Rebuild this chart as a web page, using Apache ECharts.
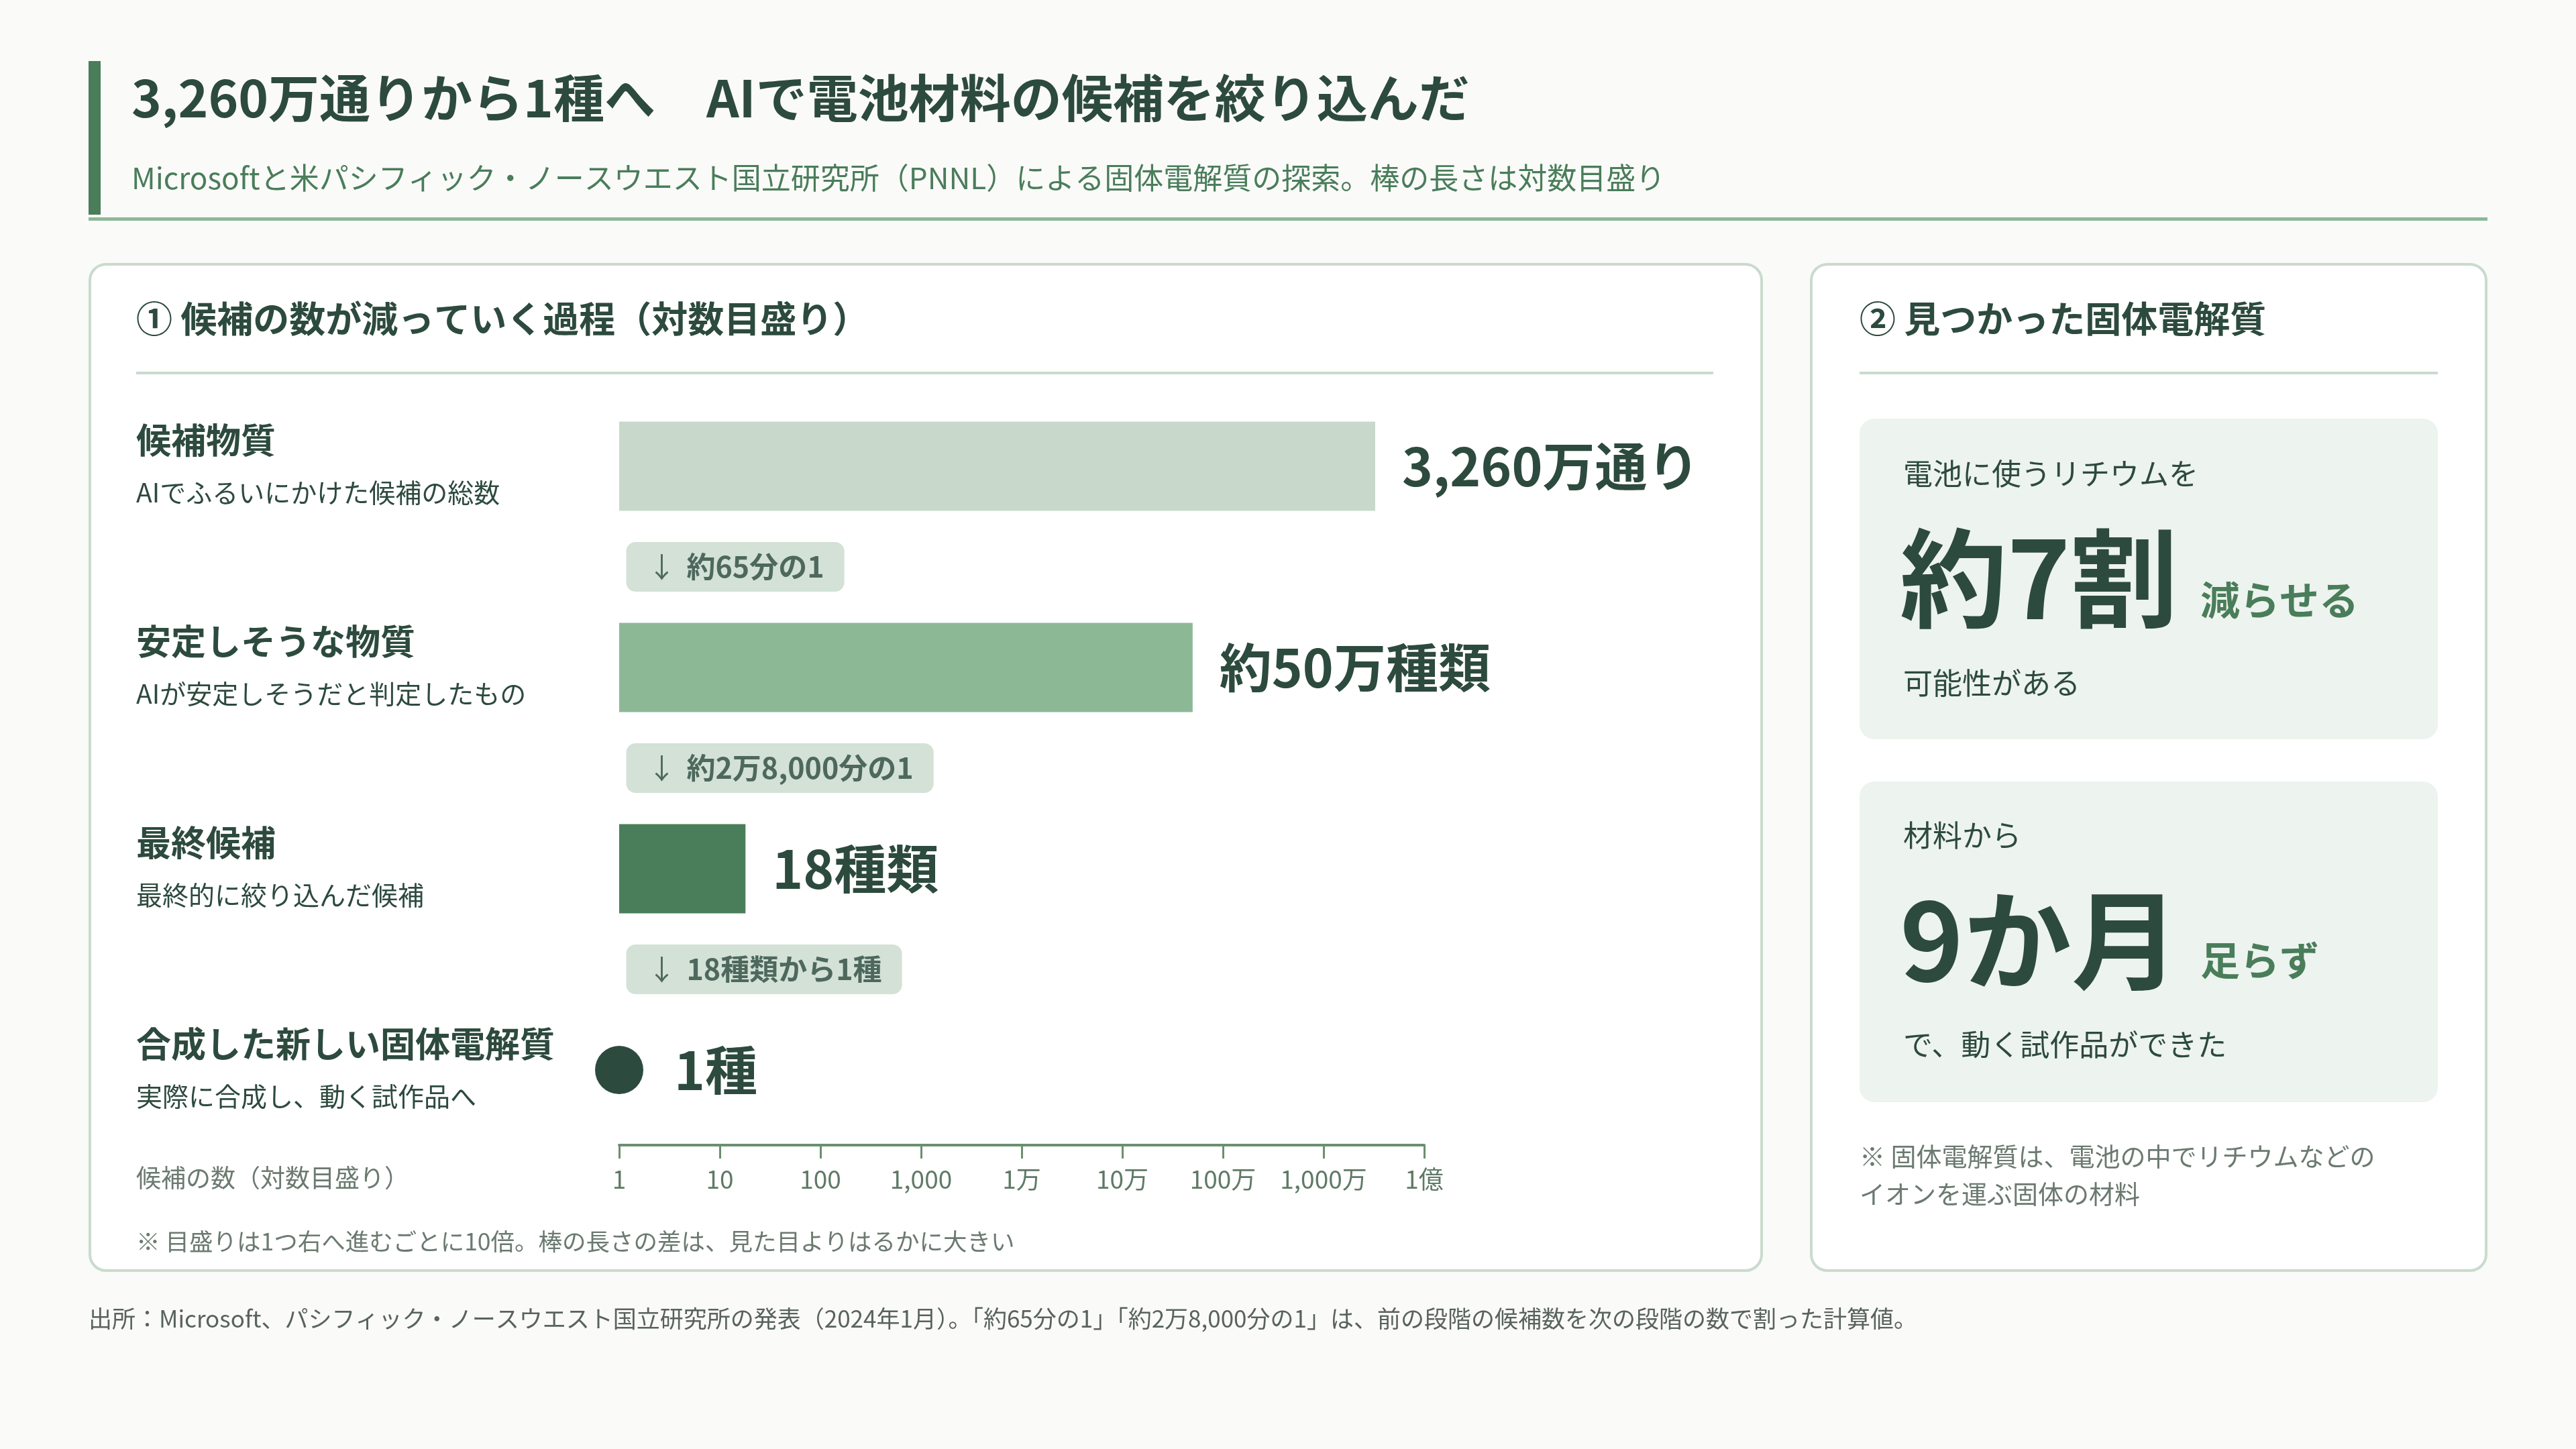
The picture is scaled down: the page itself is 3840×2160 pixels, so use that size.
<!DOCTYPE html>
<html lang="ja">
<head>
<meta charset="utf-8">
<title>3,260万通りから1種へ</title>
<script src="https://cdn.jsdelivr.net/npm/echarts@6/dist/echarts.min.js"></script>
<style>
  html, body { margin: 0; padding: 0; background: #fafaf9; }
  #chart { width: 3840px; height: 2160px; }
</style>
</head>
<body>
<div id="chart"></div>
<script>
// ---------- data ----------
const stageNames = ['候補物質', '安定しそうな物質', '最終候補', '合成した新しい固体電解質'];
const stageNotes = ['AIでふるいにかけた候補の総数', 'AIが安定しそうだと判定したもの', '最終的に絞り込んだ候補', '実際に合成し、動く試作品へ'];
const stageCounts = [32600000, 500000, 18, 1];
const countLabels = ['3,260万通り', '約50万種類', '18種類', '1種'];
const ratioLabels = ['約65分の1', '約2万8,000分の1', '18種類から1種'];
const tickLabels = ['1', '10', '100', '1,000', '1万', '10万', '100万', '1,000万', '1億'];
const stageColors = ['#c8d9cc', '#8cb896', '#4a7d5a', '#2d4a3e'];

// ---------- build slots (stage rows interleaved with ratio badges) ----------
const FONT = "'Noto Sans CJK JP', 'Noto Sans', sans-serif";
const DARK = '#2d4a3e';
const slots = [];
stageNames.forEach((n, i) => {
  slots.push({ kind: 'stage', i: i });
  if (i < ratioLabels.length) slots.push({ kind: 'ratio', i: i });
});

const barData = slots.map(s => {
  if (s.kind === 'stage' && stageCounts[s.i] > 1) {
    return { value: stageCounts[s.i], itemStyle: { color: stageColors[s.i] }, stage: s.i };
  }
  return '-';
});
const dotData = [];
const badgeData = [];
slots.forEach((s, k) => {
  if (s.kind === 'stage' && stageCounts[s.i] <= 1) {
    dotData.push({ value: [stageCounts[s.i], k], itemStyle: { color: stageColors[s.i], opacity: 1 }, stage: s.i });
  }
  if (s.kind === 'ratio') badgeData.push({ value: [1, k], ratio: s.i });
});

// ---------- chart ----------
const chart = echarts.init(document.getElementById('chart'), null, { renderer: 'canvas', width: 3840, height: 2160 });

function txt(text, x, y, size, weight, color, extra) {
  return Object.assign({
    type: 'text', x: x, y: y, z: 10,
    style: {
      text: text, fontSize: size, fontWeight: weight, fontFamily: FONT, fill: color,
      align: 'left', verticalAlign: 'middle', textAlign: 'left', textVerticalAlign: 'middle'
    }
  }, extra || {});
}

const graphics = [
  // header
  { type: 'rect', z: 1, shape: { x: 132, y: 91, width: 18, height: 229 }, style: { fill: '#4a7d5a' } },
  txt('3,260万通りから1種へ　AIで電池材料の候補を絞り込んだ', 196, 146, 76, 'bold', DARK),
  txt('Microsoftと米パシフィック・ノースウエスト国立研究所（PNNL）による固体電解質の探索。棒の長さは対数目盛り', 196, 265, 44, 'normal', '#4a7d5a'),
  { type: 'rect', z: 1, shape: { x: 132, y: 324, width: 3576, height: 5 }, style: { fill: '#8cb896' } },

  // left card
  { type: 'rect', z: 0, shape: { x: 134, y: 394, width: 2492, height: 1500, r: 24 }, style: { fill: '#ffffff', stroke: '#c9dbcd', lineWidth: 4 } },
  txt('① 候補の数が減っていく過程（対数目盛り）', 203, 475, 54, 'bold', DARK),
  { type: 'rect', z: 1, shape: { x: 203, y: 554, width: 2351, height: 4 }, style: { fill: '#c9dbcd' } },
  txt('候補の数（対数目盛り）', 203, 1756, 37, 'normal', '#6b7a70'),
  txt('※ 目盛りは1つ右へ進むごとに10倍。棒の長さの差は、見た目よりはるかに大きい', 203, 1851, 35.5, 'normal', '#6b7a70'),

  // right card
  { type: 'rect', z: 0, shape: { x: 2700, y: 394, width: 1006, height: 1500, r: 24 }, style: { fill: '#ffffff', stroke: '#c9dbcd', lineWidth: 4 } },
  txt('② 見つかった固体電解質', 2772, 475, 54, 'bold', DARK),
  { type: 'rect', z: 1, shape: { x: 2772, y: 554, width: 862, height: 4 }, style: { fill: '#c9dbcd' } },

  { type: 'rect', z: 1, shape: { x: 2772, y: 624, width: 862, height: 478, r: 22 }, style: { fill: '#edf3ee' } },
  txt('電池に使うリチウムを', 2837, 706, 44, 'normal', DARK),
  txt('約7割', 2832, 862, 160, 'bold', DARK),
  txt('減らせる', 3280, 895, 59, 'bold', '#4a7d5a'),
  txt('可能性がある', 2837, 1018, 44, 'normal', DARK),

  { type: 'rect', z: 1, shape: { x: 2772, y: 1165, width: 862, height: 478, r: 22 }, style: { fill: '#edf3ee' } },
  txt('材料から', 2837, 1245, 44, 'normal', DARK),
  txt('9か月', 2832, 1402, 161, 'bold', DARK),
  txt('足らず', 3280, 1432, 59, 'bold', '#4a7d5a'),
  txt('で、動く試作品ができた', 2837, 1557, 44, 'normal', DARK),

  txt('※ 固体電解質は、電池の中でリチウムなどの', 2772, 1724, 38, 'normal', '#6b7a70'),
  txt('イオンを運ぶ固体の材料', 2772, 1780, 38, 'normal', '#6b7a70'),

  // footer
  txt('出所：Microsoft、パシフィック・ノースウエスト国立研究所の発表（2024年1月）。「約65分の1」「約2万8,000分の1」は、前の段階の候補数を次の段階の数で割った計算値。', 132, 1966, 35, 'normal', '#59635d')
];

const option = {
  backgroundColor: '#fafaf9',
  animation: false,
  textStyle: { fontFamily: FONT },
  graphic: { elements: graphics },
  grid: { left: 923, top: 620, width: 1200, height: 1050, containLabel: false },
  xAxis: {
    type: 'log', logBase: 10, min: 1, max: 100000000, interval: 1, splitNumber: 8,
    position: 'bottom', offset: 37,
    axisLine: { show: true, lineStyle: { color: '#6b8f71', width: 4 } },
    axisTick: { show: true, length: 20, lineStyle: { color: '#6b8f71', width: 3 } },
    minorTick: { show: false },
    splitLine: { show: false },
    axisLabel: {
      fontSize: 37, color: '#5f7a66', margin: 32, fontFamily: FONT,
      formatter: v => tickLabels[Math.round(Math.log10(v))] || ''
    }
  },
  yAxis: {
    type: 'category', inverse: true,
    data: slots.map((s, k) => String(k)),
    axisLine: { show: false }, axisTick: { show: false }, splitLine: { show: false },
    axisLabel: {
      show: true, align: 'left', margin: 720, interval: 0,
      formatter: (v) => {
        const s = slots[+v];
        if (s.kind !== 'stage') return '';
        return '{t|' + stageNames[s.i] + '}\n{s|' + stageNotes[s.i] + '}';
      },
      rich: {
        t: { fontSize: 52, fontWeight: 'bold', color: DARK, lineHeight: 78, fontFamily: FONT },
        s: { fontSize: 39, color: DARK, lineHeight: 78, fontFamily: FONT }
      }
    }
  },
  series: [
    {
      type: 'bar', z: 5, barWidth: 133, data: barData, silent: true,
      label: {
        show: true, position: 'right', distance: 40,
        fontSize: 78, fontWeight: 'bold', color: DARK, fontFamily: FONT,
        formatter: p => countLabels[p.data.stage]
      }
    },
    {
      type: 'scatter', z: 6, symbol: 'circle', symbolSize: 72, data: dotData, silent: true,
      itemStyle: { opacity: 1 },
      label: {
        show: true, position: 'right', distance: 46,
        fontSize: 78, fontWeight: 'bold', color: DARK, fontFamily: FONT,
        formatter: p => countLabels[p.data.stage]
      }
    },
    {
      type: 'scatter', z: 6, symbol: 'circle', symbolSize: 1, data: badgeData, silent: true,
      itemStyle: { color: 'rgba(0,0,0,0)' },
      label: {
        show: true, position: 'right', distance: 10,
        backgroundColor: '#c8d9cc', borderRadius: 14, padding: [14, 30, 14, 32],
        formatter: p => '{a|↓}{b|' + ratioLabels[p.data.ratio] + '}',
        rich: {
          a: { fontSize: 42, color: DARK, fontWeight: 'normal', fontFamily: FONT, lineHeight: 46, padding: [0, 16, 0, 0] },
          b: { fontSize: 43, color: DARK, fontWeight: 'bold', fontFamily: FONT, lineHeight: 46 }
        }
      }
    }
  ]
};
chart.setOption(option);
</script>
</body>
</html>
